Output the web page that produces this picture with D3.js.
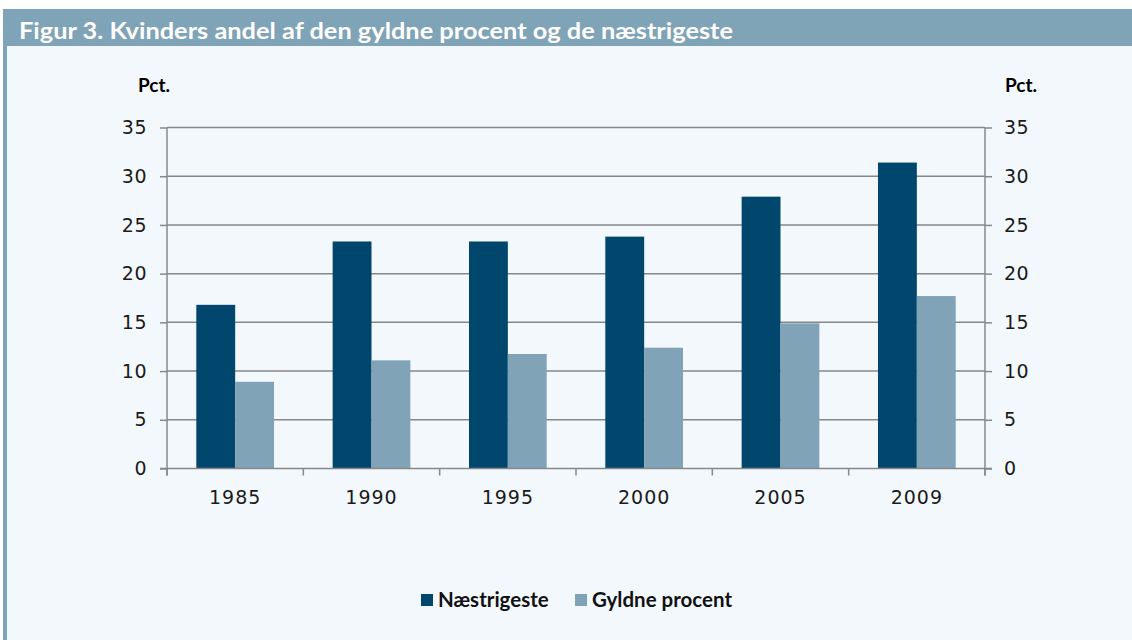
<!DOCTYPE html>
<html>
<head>
<meta charset="utf-8">
<script src="https://cdn.jsdelivr.net/npm/d3@7"></script>
<style>
  body { margin: 0; background: #ffffff; }
  svg { display: block; }
</style>
</head>
<body>
<script>
// data (pct.)
let years = ["1985", "1990", "1995", "2000", "2005", "2009"];
let naestrigeste = [16.8, 23.3, 23.3, 23.8, 27.9, 31.4];
let gyldneProcent = [8.9, 11.1, 11.75, 12.4, 14.9, 17.7];
let seriesNames = ["Næstrigeste", "Gyldne procent"];
let yTicks = [0, 5, 10, 15, 20, 25, 30, 35];

let svgWidth = 1132, svgHeight = 640;
let margin = {top: 127.5, bottom: 171.5, left: 167, right: 147};

let svg = d3.select("body").append("svg")
  .attr("width", svgWidth)
  .attr("height", svgHeight);

// panel background + title bar
svg.append("rect").attr("x", 3).attr("y", 9).attr("width", svgWidth - 3).attr("height", svgHeight - 9)
  .attr("fill", "#f3f8fd");
svg.append("rect").attr("x", 3).attr("y", 9).attr("width", 4).attr("height", svgHeight - 9)
  .attr("fill", "#7fa3b7");
svg.append("rect").attr("x", 3).attr("y", 9).attr("width", svgWidth - 3).attr("height", 37)
  .attr("fill", "#7fa3b7");
svg.append("text").attr("x", 19).attr("y", 39)
  .style("font-family", "Lato, sans-serif").style("font-weight", "bold").style("font-size", "23px")
  .attr("textLength", 714).attr("lengthAdjust", "spacingAndGlyphs")
  .attr("fill", "#ffffff")
  .text("Figur 3. Kvinders andel af den gyldne procent og de næstrigeste");

let x0 = d3.scaleBand()
  .domain(years)
  .range([margin.left, svgWidth - margin.right])
  .paddingInner(0.43)
  .paddingOuter(0.215);
let x1 = d3.scaleBand()
  .domain(seriesNames)
  .range([0, x0.bandwidth()]);
let y = d3.scaleLinear()
  .domain([0, 35])
  .range([svgHeight - margin.bottom, margin.top]);
let colors = d3.scaleOrdinal().domain(seriesNames).range(["#00466d", "#80a3b8"]);

let gridColor = "#888888";
let tickFont = "'DejaVu Sans', sans-serif";

// gridlines
svg.append("g").selectAll("line").data(yTicks.slice(1)).enter().append("line")
  .attr("x1", margin.left).attr("x2", svgWidth - margin.right)
  .attr("y1", d => y(d)).attr("y2", d => y(d))
  .attr("stroke", gridColor).attr("stroke-width", 1.5);

// bars
let rows = years.map((yr, i) => ({year: yr, vals: [naestrigeste[i], gyldneProcent[i]]}));
let groups = svg.append("g").selectAll("g").data(rows).enter().append("g")
  .attr("transform", d => "translate(" + x0(d.year) + ",0)");
groups.selectAll("rect").data(d => d.vals.map((v, j) => ({name: seriesNames[j], v: v}))).enter()
  .append("rect")
  .attr("x", d => x1(d.name))
  .attr("width", x1.bandwidth())
  .attr("y", d => y(d.v))
  .attr("height", d => y(0) - y(d.v))
  .attr("fill", d => colors(d.name));

// left axis
let leftAxis = svg.append("g")
  .attr("transform", "translate(" + margin.left + ",0)")
  .call(d3.axisLeft(y).tickValues(yTicks).tickSize(7).tickPadding(13));
// right axis
let rightAxis = svg.append("g")
  .attr("transform", "translate(" + (svgWidth - margin.right) + ",0)")
  .call(d3.axisRight(y).tickValues(yTicks).tickSize(7).tickPadding(12));

// bottom axis, ticks at category boundaries
let bottomAxis = svg.append("g")
  .attr("transform", "translate(0," + y(0) + ")");
bottomAxis.append("line")
  .attr("x1", margin.left - 7).attr("x2", svgWidth - margin.right + 7)
  .attr("stroke", gridColor).attr("stroke-width", 1.5);
let step = x0.step();
let bounds = years.map(d => x0(d) - x0.paddingInner() * step / 2).concat([svgWidth - margin.right]);
bottomAxis.selectAll("line.tk").data(bounds).enter().append("line").attr("class", "tk")
  .attr("x1", d => d).attr("x2", d => d).attr("y1", 0).attr("y2", 7)
  .attr("stroke", gridColor).attr("stroke-width", 1.5);
bottomAxis.selectAll("text").data(years).enter().append("text")
  .attr("x", d => x0(d) + x0.bandwidth() / 2)
  .attr("y", 35)
  .attr("text-anchor", "middle")
  .style("font-family", tickFont).style("font-size", "19px").style("letter-spacing", "1px")
  .attr("fill", "#1a1a1a")
  .text(d => d);

[leftAxis, rightAxis].forEach(a => {
  a.select(".domain").attr("stroke", gridColor).attr("stroke-width", 1.5);
  a.selectAll(".tick line").attr("stroke", gridColor).attr("stroke-width", 1.5);
  a.selectAll(".tick text").style("font-family", tickFont).style("font-size", "19px")
    .style("letter-spacing", "0.5px").attr("fill", "#1a1a1a");
});
leftAxis.select(".domain").attr("d", "M0," + y(35) + "V" + (y(0) + 7));
rightAxis.select(".domain").attr("d", "M0," + y(35) + "V" + (y(0) + 7));

// unit labels
svg.append("text").attr("x", 138).attr("y", 92)
  .style("font-family", "Lato, sans-serif").style("font-weight", "bold").style("font-size", "19px")
  .text("Pct.");
svg.append("text").attr("x", 1005).attr("y", 92)
  .style("font-family", "Lato, sans-serif").style("font-weight", "bold").style("font-size", "19px")
  .text("Pct.");

// legend
let legendX = [421, 575];
let legend = svg.append("g").selectAll("g").data(seriesNames).enter().append("g")
  .attr("transform", (d, i) => "translate(" + legendX[i] + ",594)");
legend.append("rect").attr("width", 12).attr("height", 12).attr("fill", d => colors(d));
legend.append("text").attr("x", 17).attr("y", 13)
  .style("font-family", "Lato, sans-serif").style("font-weight", "bold").style("font-size", "20.5px")
  .attr("fill", "#111")
  .text(d => d);
</script>
</body>
</html>
